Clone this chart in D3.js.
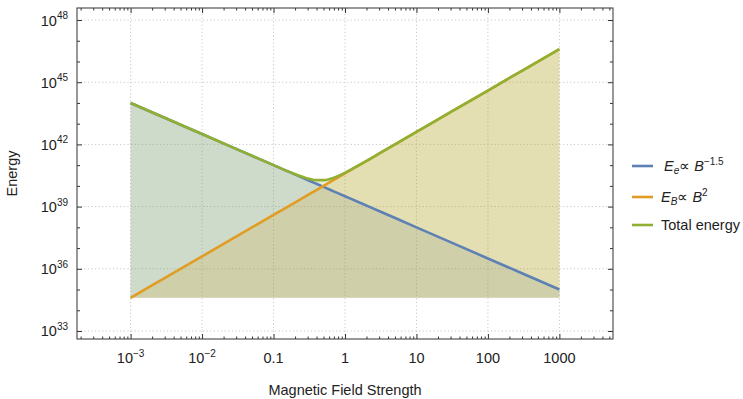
<!DOCTYPE html>
<html>
<head>
<meta charset="utf-8">
<script src="https://cdn.jsdelivr.net/npm/d3@7"></script>
<style>
  body { margin: 0; background: #fff; }
  text { font-family: "Liberation Sans", Arial, sans-serif; fill: #222; }
</style>
</head>
<body>
<script>
// field strength samples, as log10(B)
var logB = [-3, -2.5, -2, -1.5, -1, -0.75, -0.5, -0.4, -0.3, -0.2, -0.1, 0, 0.25, 0.5, 1, 1.5, 2, 2.5, 3];
// energies, as log10(E)
var logEe = [44, 43.25, 42.5, 41.75, 41, 40.625, 40.25, 40.1, 39.95, 39.8, 39.65, 39.5, 39.125, 38.75, 38, 37.25, 36.5, 35.75, 35];
var logEB = [34.6, 35.6, 36.6, 37.6, 38.6, 39.1, 39.6, 39.8, 40, 40.2, 40.4, 40.6, 41.1, 41.6, 42.6, 43.6, 44.6, 45.6, 46.6];
var logTotal = [44, 43.25, 42.5, 41.75, 41.002, 40.638, 40.338, 40.276, 40.277, 40.346, 40.471, 40.633, 41.105, 41.601, 42.6, 43.6, 44.6, 45.6, 46.6];
var fillBase = 34.6;

var xMajor = [-3, -2, -1, 0, 1, 2, 3];
var xLabels = ["10|−3", "10|−2", "0.1", "1", "10", "100", "1000"];
var yMajor = [33, 36, 39, 42, 45, 48];

var seriesNames = ["Ee", "EB", "Total energy"];
var colors = ["#5e81b5", "#e19c24", "#8fb032"];

var margin = { left: 77, right: 130, top: 8, bottom: 60 };
var W = 743, H = 399;
var fs = 14.5, fsSmall = 10;

var x = d3.scaleLog().domain([Math.pow(10, -3.75), Math.pow(10, 3.75)]).range([margin.left, W - margin.right]);
var y = d3.scaleLog().domain([Math.pow(10, 32.614), Math.pow(10, 48.58)]).range([H - margin.bottom, margin.top]);

var svg = d3.select("body").append("svg").attr("width", W).attr("height", H);

var x0 = margin.left, x1 = W - margin.right, y0 = H - margin.bottom, y1 = margin.top;

// grid
var grid = svg.append("g").attr("stroke", "#c8c8c8").attr("stroke-width", 1).attr("stroke-dasharray", "1.2,2.4");
xMajor.forEach(function (k) {
  var px = x(Math.pow(10, k));
  grid.append("line").attr("x1", px).attr("x2", px).attr("y1", y0).attr("y2", y1);
});
yMajor.forEach(function (k) {
  var py = y(Math.pow(10, k));
  grid.append("line").attr("x1", x0).attr("x2", x1).attr("y1", py).attr("y2", py);
});

var series = [logEe, logEB, logTotal];
var pts = series.map(function (s) {
  return logB.map(function (b, i) { return { b: Math.pow(10, b), e: Math.pow(10, s[i]) }; });
});

var area = d3.area()
  .x(function (d) { return x(d.b); })
  .y0(y(Math.pow(10, fillBase)))
  .y1(function (d) { return y(d.e); })
  .curve(d3.curveMonotoneX);
var line = d3.line()
  .x(function (d) { return x(d.b); })
  .y(function (d) { return y(d.e); })
  .curve(d3.curveMonotoneX);

pts.forEach(function (p, i) {
  svg.append("path").attr("d", area(p)).attr("fill", colors[i]).attr("fill-opacity", 0.2);
});
pts.forEach(function (p, i) {
  svg.append("path").attr("d", line(p)).attr("fill", "none").attr("stroke", colors[i]).attr("stroke-width", 2.6);
});

// frame ticks
var xMinor = [];
for (var k = -4; k <= 3; k++) {
  for (var m = 2; m <= 9; m++) {
    var v = m * Math.pow(10, k);
    if (v > x.domain()[0] && v < x.domain()[1]) xMinor.push(v);
  }
}
var yMinor = [];
for (var k2 = 33; k2 <= 48; k2++) if (yMajor.indexOf(k2) < 0) yMinor.push(Math.pow(10, k2));

function frameAxis(axisFn, scale, pos, vals, size) {
  svg.append("g").attr("transform", pos)
    .call(axisFn(scale).tickValues(vals).tickSize(size).tickFormat(""))
    .call(function (g) { g.select(".domain").remove(); g.selectAll("line").attr("stroke", "#333"); });
}
var xMaj = xMajor.map(function (k) { return Math.pow(10, k); });
var yMaj = yMajor.map(function (k) { return Math.pow(10, k); });
frameAxis(d3.axisBottom, x, "translate(0," + y0 + ")", xMaj, -5);
frameAxis(d3.axisBottom, x, "translate(0," + y0 + ")", xMinor, -2.5);
frameAxis(d3.axisTop, x, "translate(0," + y1 + ")", xMaj, -5);
frameAxis(d3.axisTop, x, "translate(0," + y1 + ")", xMinor, -2.5);
frameAxis(d3.axisLeft, y, "translate(" + x0 + ",0)", yMaj, -5);
frameAxis(d3.axisLeft, y, "translate(" + x0 + ",0)", yMinor, -3);
frameAxis(d3.axisRight, y, "translate(" + x1 + ",0)", yMaj, -5);
frameAxis(d3.axisRight, y, "translate(" + x1 + ",0)", yMinor, -3);

svg.append("rect").attr("x", x0).attr("y", y1).attr("width", x1 - x0).attr("height", y0 - y1)
  .attr("fill", "none").attr("stroke", "#444").attr("stroke-width", 1.1);

// tick labels
xMajor.forEach(function (k, i) {
  var t = svg.append("text").attr("x", x(Math.pow(10, k))).attr("y", 363)
    .attr("text-anchor", "middle").attr("font-size", fs);
  var parts = xLabels[i].split("|");
  t.append("tspan").text(parts[0]);
  if (parts[1]) t.append("tspan").attr("dy", -6).attr("font-size", fsSmall).text(parts[1]);
});
yMajor.forEach(function (k) {
  var t = svg.append("text").attr("x", 68).attr("y", y(Math.pow(10, k)) + 5.5)
    .attr("text-anchor", "end").attr("font-size", fs);
  t.append("tspan").text("10");
  t.append("tspan").attr("dy", -6.5).attr("font-size", fsSmall).text(k);
});

// axis titles
svg.append("text").attr("transform", "translate(17," + ((y0 + y1) / 2) + ") rotate(-90)")
  .attr("text-anchor", "middle").attr("font-size", fs).text("Energy");
svg.append("text").attr("x", (x0 + x1) / 2).attr("y", 395)
  .attr("text-anchor", "middle").attr("font-size", fs).text("Magnetic Field Strength");

// legend
var legY = [166, 197, 225];
var leg = svg.append("g");
legY.forEach(function (ly, i) {
  leg.append("line").attr("x1", 632).attr("x2", 653).attr("y1", ly).attr("y2", ly)
    .attr("stroke", colors[i]).attr("stroke-width", 2.6);
});
var t0 = leg.append("text").attr("x", 664).attr("y", legY[0] + 5).attr("font-size", fs);
t0.append("tspan").attr("font-style", "italic").text("E");
t0.append("tspan").attr("font-style", "italic").attr("font-size", fsSmall).attr("dy", 3).text("e");
t0.append("tspan").attr("dy", -3).text("\u221D ");
t0.append("tspan").attr("font-style", "italic").text("B");
t0.append("tspan").attr("font-size", fsSmall).attr("dy", -6.5).text("\u22121.5");
var t1 = leg.append("text").attr("x", 661).attr("y", legY[1] + 5).attr("font-size", fs);
t1.append("tspan").attr("font-style", "italic").text("E");
t1.append("tspan").attr("font-style", "italic").attr("font-size", fsSmall).attr("dy", 3).text("B");
t1.append("tspan").attr("dy", -3).text("\u221D ");
t1.append("tspan").attr("font-style", "italic").text("B");
t1.append("tspan").attr("font-size", fsSmall).attr("dy", -6.5).text("2");
leg.append("text").attr("x", 661).attr("y", legY[2] + 5).attr("font-size", fs).text(seriesNames[2]);
</script>
</body>
</html>
